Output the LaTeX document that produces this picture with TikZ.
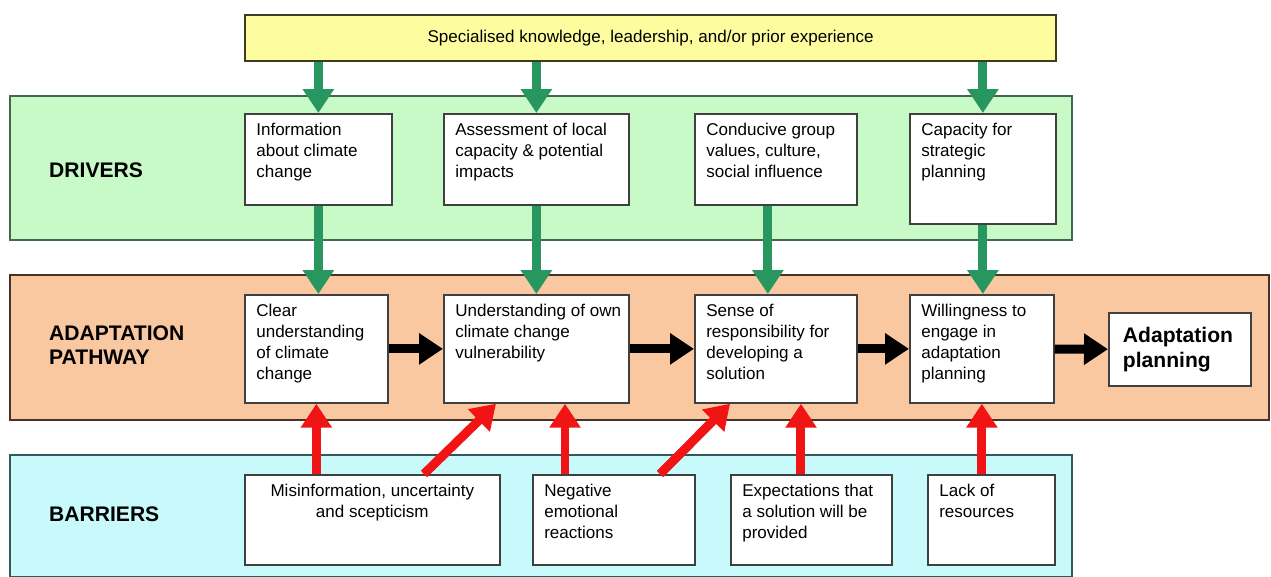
\documentclass[tikz,border=0pt]{standalone}
\usepackage{fontspec}
\setmainfont{Liberation Sans}
\usetikzlibrary{arrows.meta}

\definecolor{topfill}{RGB}{253,253,160}
\definecolor{topline}{RGB}{60,60,30}
\definecolor{drvfill}{RGB}{200,250,200}
\definecolor{drvline}{RGB}{70,100,80}
\definecolor{pathfill}{RGB}{250,200,160}
\definecolor{pathline}{RGB}{70,50,40}
\definecolor{barfill}{RGB}{200,250,252}
\definecolor{barline}{RGB}{50,90,90}
\definecolor{arrowgreen}{RGB}{40,150,95}
\definecolor{arrowred}{RGB}{240,20,20}

\newcommand{\boxfont}{\fontsize{9.7}{11.8}\selectfont}
\newcommand{\boxtext}[3]{\parbox[t][\dimexpr#2cm-11pt\relax][t]{\dimexpr#1cm-4pt\relax}{\raggedright\leftskip=4.5pt #3}}

\begin{document}
\begin{tikzpicture}[x=0.02cm, y=-0.02cm,
    band/.style={line width=1.2pt},
    stagebox/.style={draw=black!75, fill=white, line width=1pt, inner xsep=2pt, inner ysep=5.5pt, anchor=north west, font=\boxfont},
    rowlabel/.style={anchor=west, align=left, font=\fontsize{12}{14}\selectfont\bfseries},
    fat/.style={line width=0.18cm, -{Triangle[width=0.6cm,length=0.48cm]}},
    drive/.style={fat, draw=arrowgreen},
    block/.style={fat, draw=arrowred},
    flow/.style={fat, draw=black}]
    \useasboundingbox (0,0) rectangle (1271,576);

    % bands
    \draw[band, draw=drvline, fill=drvfill] (10,96) rectangle (1072,240);
    \draw[band, draw=pathline, fill=pathfill] (10,275) rectangle (1269,420);
    \draw[band, draw=barline, fill=barfill] (10,455) rectangle (1072,577);
    \node[rowlabel] (drvlabel) at (43,170) {DRIVERS};
    \node[rowlabel] (pathlabel) at (43,345) {ADAPTATION\\PATHWAY};
    \node[rowlabel] (barlabel) at (43,514) {BARRIERS};

    \node[stagebox, draw=topline, fill=topfill, line width=1.4pt, inner sep=0pt, minimum width=16.22cm, minimum height=0.92cm] (top) at (244,14) {Specialised knowledge, leadership, and/or prior experience};

    % drivers
    \node[stagebox] (d1) at (244,113) {\boxtext{2.94}{1.82}{Information\\about climate\\change}};
    \node[stagebox] (d2) at (443,113) {\boxtext{3.70}{1.82}{Assessment of local\\capacity \& potential\\impacts}};
    \node[stagebox] (d3) at (694,113) {\boxtext{3.24}{1.82}{Conducive group\\values, culture,\\social influence}};
    \node[stagebox] (d4) at (909,113) {\boxtext{2.92}{2.20}{Capacity for\\strategic\\planning}};

    % pathway
    \node[stagebox] (a1) at (244,294) {\boxtext{2.86}{2.16}{Clear\\understanding\\of climate\\change}};
    \node[stagebox] (a2) at (443,294) {\boxtext{3.70}{2.16}{Understanding of own\\climate change\\vulnerability}};
    \node[stagebox] (a3) at (694,294) {\boxtext{3.24}{2.16}{Sense of\\responsibility for\\developing a\\solution}};
    \node[stagebox] (a4) at (909,294) {\boxtext{2.88}{2.16}{Willingness to\\engage in\\adaptation\\planning}};
    \node[stagebox, inner xsep=8pt, minimum width=2.84cm, minimum height=1.46cm, text width=2.28cm, align=left, font=\fontsize{12}{14}\selectfont\bfseries] (goal) at (1108,312) {Adaptation\\planning};

    % barriers
    \node[stagebox] (b1) at (244,474) {\boxtext{5.10}{1.80}{\centering Misinformation, uncertainty\\and scepticism}};
    \node[stagebox] (b2) at (532,474) {\boxtext{3.24}{1.80}{Negative\\emotional\\reactions}};
    \node[stagebox] (b3) at (730,474) {\boxtext{3.22}{1.80}{Expectations that\\a solution will be\\provided}};
    \node[stagebox] (b4) at (927,474) {\boxtext{2.54}{1.80}{Lack of\\resources}};

    \draw[drive] (d1.north |- top.south) -- (d1.north);
    \draw[drive] (d2.north |- top.south) -- (d2.north);
    \draw[drive] (d4.north |- top.south) -- (d4.north);
    \draw[drive] (d1.south) -- (d1.south |- a1.north);
    \draw[drive] (d2.south) -- (d2.south |- a2.north);
    \coordinate (d3out) at ([xshift=-0.16cm]d3.south);
    \draw[drive] (d3out) -- (d3out |- a3.north);
    \draw[drive] (d4.south) -- (d4.south |- a4.north);

    \draw[flow] (a1) -- (a2);
    \draw[flow] (a2) -- (a3);
    \draw[flow] (a3) -- (a4);
    \draw[flow] (a4) -- (goal);

    \coordinate (b1diag) at ([xshift=3.6cm]b1.north west);
    \coordinate (a2diag) at ([xshift=1.06cm]a2.south west);
    \coordinate (b2up) at ([xshift=0.66cm]b2.north west);
    \coordinate (b2diag) at ([xshift=2.56cm]b2.north west);
    \coordinate (a3diag) at ([xshift=0.72cm]a3.south west);
    \coordinate (b3up) at ([xshift=1.42cm]b3.north west);
    \draw[block] (a1.south |- b1.north) -- (a1.south);
    \draw[block] (b1diag) -- (a2diag);
    \draw[block] (b2up) -- (b2up |- a2.south);
    \draw[block] (b2diag) -- (a3diag);
    \draw[block] (b3up) -- (b3up |- a3.south);
    \draw[block] (a4.south |- b4.north) -- (a4.south);
\end{tikzpicture}
\end{document}
